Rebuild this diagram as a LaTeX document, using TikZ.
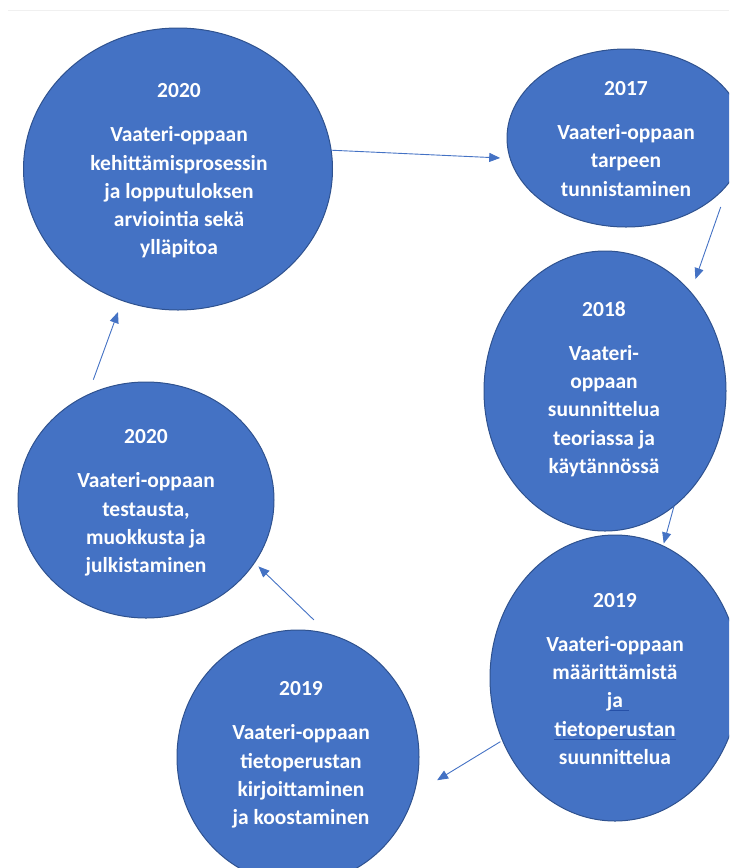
\documentclass[tikz,border=0pt]{standalone}
\usepackage{fontspec}
\setmainfont{Carlito}
\usetikzlibrary{arrows.meta,shapes.geometric}

\definecolor{bubblefill}{HTML}{4472C4}
\definecolor{bubbleline}{HTML}{2F528F}
\definecolor{flowline}{HTML}{4472C4}
\definecolor{markline}{HTML}{2550A8}

% thin proofing underline under a word; optional arg extends it to the right
\newcommand\gramline[2][0pt]{\setbox0=\hbox{#2}\rlap{\color{markline}\rule[-3.5pt]{\dimexpr\wd0+#1\relax}{1.2pt}}\box0}

\begin{document}
\begin{tikzpicture}[x=1pt,y=-1pt,
  bubble/.style={ellipse, draw=bubbleline, line width=1pt, fill=bubblefill,
                 inner sep=0pt, outer sep=0pt},
  caption/.style={text=white, align=center, inner sep=0pt,
                  font=\fontsize{21.5}{28.3}\selectfont\bfseries},
  flow/.style={draw=flowline, line width=0.9pt,
               -{Triangle[length=11pt,width=9pt]}}]
\useasboundingbox (0,0) rectangle (729,868);
\clip (0,0) rectangle (729,868);

% faint rule along the top
\draw[gray!12, line width=1pt] (8,10) -- (729,10);

% stages of the cycle
\node[bubble, minimum width=309pt, minimum height=282pt] (e1) at (178,169) {};
\node[bubble, minimum width=238pt, minimum height=178pt] (e2) at (626,138) {};
\node[bubble, minimum width=242pt, minimum height=280pt] (e3) at (605,391) {};
\node[bubble, minimum width=250pt, minimum height=286pt] (e4) at (615,678) {};
\node[bubble, minimum width=242pt, minimum height=254pt] (e5) at (298,757) {};
\node[bubble, minimum width=256pt, minimum height=236pt] (e6) at (146,500) {};

% stage texts
\node[caption] (t1) at (179,171) {2020\\[15.7pt]Vaateri-oppaan\\kehittämisprosessin\\ja lopputuloksen\\arviointia sekä\\ylläpitoa};
\node[caption] (t2) at (626,139) {2017\\[15.7pt]Vaateri-oppaan\\tarpeen\\tunnistaminen};
\node[caption] (t3) at (604,389) {2018\\[15.7pt]Vaateri-\\oppaan\\suunnittelua\\teoriassa ja\\käytännössä};
\node[caption] (t4) at (615,679) {2019\\[15.7pt]Vaateri-oppaan\\määrittämistä\\\gramline[6pt]{ja}\\\gramline{tietoperustan}\\suunnittelua};
\node[caption] (t5) at (301,755) {2019\\[15.7pt]Vaateri-oppaan\\tietoperustan\\kirjoittaminen\\ja koostaminen};
\node[caption] (t6) at (146,503) {2020\\[15.7pt]Vaateri-oppaan\\testausta,\\muokkusta ja\\julkistaminen};

% connectors
\draw[flow, shorten >=10pt] (e1.7) -- (e2.190);
\draw[flow, shorten <=26.6pt, shorten >=14pt] (e2.-23) -- (e3.49);
\draw[flow, shorten >=2.6pt] (e3.-59) -- (e4.70);
\draw[flow, shorten <=2.5pt, shorten >=27.5pt] (e4.209) -- (e5.-18);
\draw[flow, shorten <=20.5pt, shorten >=5.5pt] (e5.76) -- (e6.-30);
\draw[flow, shorten <=16.3pt, shorten >=12.3pt] (e6.119) -- (e1.247);
\end{tikzpicture}
\end{document}
